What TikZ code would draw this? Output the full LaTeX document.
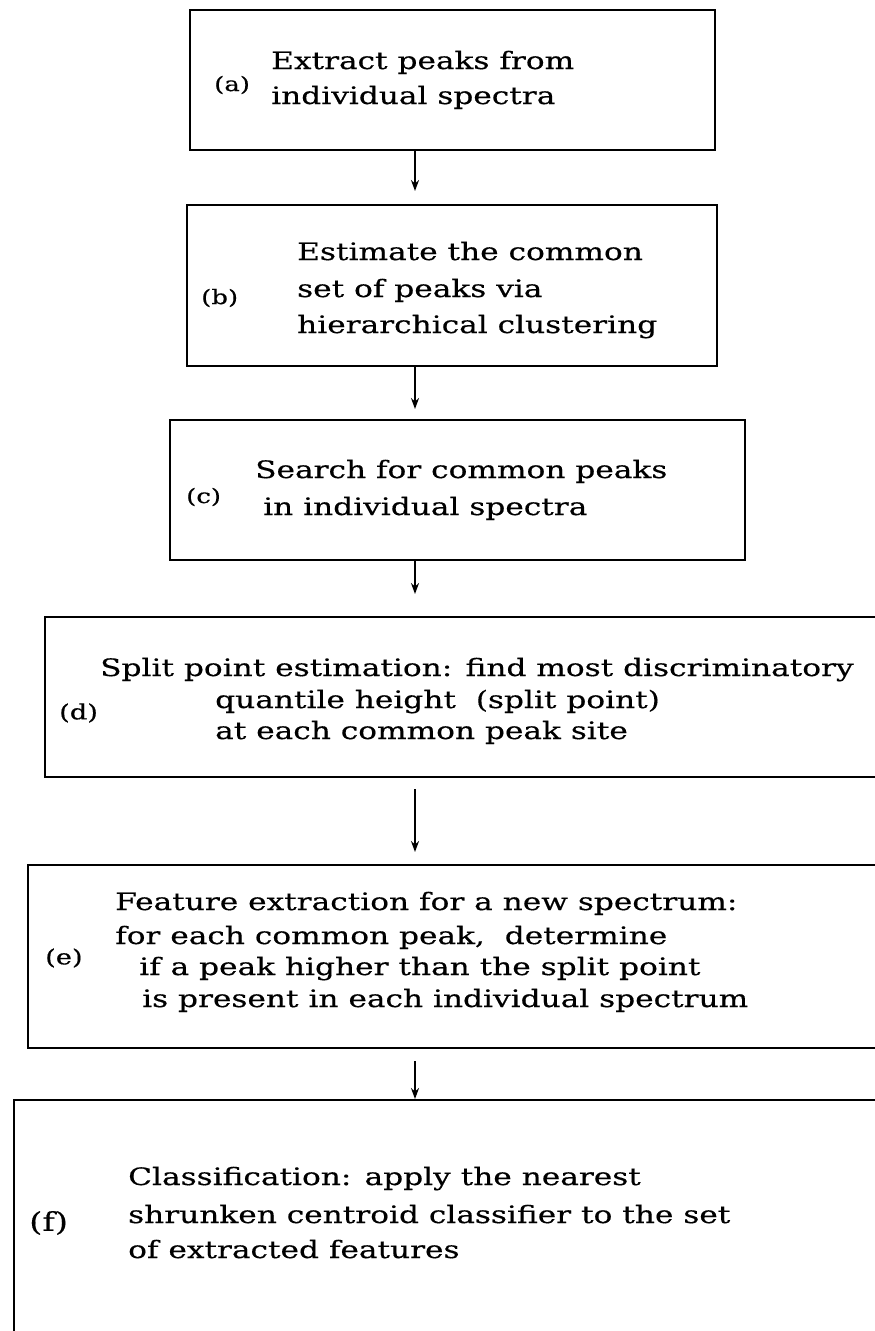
\documentclass[tikz,border=0pt]{standalone}
\usepackage{fontspec}
\setmainfont{DejaVu Serif}[FakeStretch=1.3,FakeBold=0.4]
\usetikzlibrary{arrows.meta}
\tikzset{
  box/.style={draw, line width=2pt, rectangle, inner sep=0pt},
  txt/.style={anchor=base west, inner sep=0pt, font=\fontsize{24}{30}\selectfont},
  labs/.style={anchor=west, inner sep=0pt, font=\fontsize{20}{22}\selectfont},
  labm/.style={anchor=west, inner sep=0pt, font=\fontsize{21}{24}\selectfont},
  labl/.style={anchor=west, inner sep=0pt, font=\fontsize{26}{30}\selectfont},
  arr/.style={line width=2pt, -{Stealth[length=11pt,width=8pt]}}
}
\begin{document}
\begin{tikzpicture}[x=1pt,y=-1pt]
\useasboundingbox (0,0) rectangle (875,1331);
\fill[white] (0,0) rectangle (875,1331);
\coordinate (axis) at (415,0);
% boxes
\node[box, minimum width=525pt, minimum height=140pt] (a) at (452.5,80) {};
\node[box, minimum width=530pt, minimum height=161pt] (b) at (451.5,285.5) {};
\node[box, minimum width=575pt, minimum height=140pt] (c) at (457.5,490) {};
\node[box, minimum width=850pt, minimum height=160pt] (d) at (470,697) {};
\node[box, minimum width=870pt, minimum height=183pt] (e) at (463,956.5) {};
\node[box, minimum width=890pt, minimum height=250pt] (f) at (459,1225) {};
% texts (a)
\node[labs] (la) at (214,85) {(a)};
\node[txt] (a1) at (271,69) {Extract peaks from};
\node[txt] (a2) at (271,104) {individual spectra};
% (b)
\node[labs] (lb) at (201,298) {(b)};
\node[txt] (b1) at (297,260) {Estimate the common};
\node[txt] (b2) at (297,297) {set of peaks via};
\node[txt] (b3) at (297,333) {hierarchical clustering};
% (c)
\node[labs] (lc) at (186,497) {(c)};
\node[txt] (c1) at (255,478) {Search for common peaks};
\node[txt] (c2) at (263,515) {in individual spectra};
% (d)
\node[labm] (ld) at (59,713) {(d)};
\node[txt] (d1) at (100,676) {Split point estimation: find most discriminatory};
\node[txt] (d2) at (215,708) {quantile height\ \ (split point)};
\node[txt] (d3) at (215,739) {at each common peak site};
% (e)
\node[labm] (le) at (45,958) {(e)};
\node[txt] (e1) at (115,910) {Feature extraction for a new spectrum:};
\node[txt] (e2) at (115,944) {for each common peak,\ \ determine};
\node[txt] (e3) at (139,975) {if a peak higher than the split point};
\node[txt] (e4) at (142,1007) {is present in each individual spectrum};
% (f)
\node[labl] (lf) at (29,1223) {(f)};
\node[txt] (f1) at (128,1185) {Classification: apply the nearest};
\node[txt] (f2) at (128,1223) {shrunken centroid classifier to the set};
\node[txt] (f3) at (128,1258) {of extracted features};
% arrows
\draw[arr, shorten >=13pt] (a.south -| axis) -- (b.north -| axis);
\draw[arr, shorten >=10pt] (b.south -| axis) -- (c.north -| axis);
\draw[arr, shorten >=22pt] (c.south -| axis) -- (d.north -| axis);
\draw[arr, shorten <=11pt, shorten >=12pt] (d.south -| axis) -- (e.north -| axis);
\draw[arr, shorten <=12pt] (e.south -| axis) -- (f.north -| axis);
\end{tikzpicture}
\end{document}
